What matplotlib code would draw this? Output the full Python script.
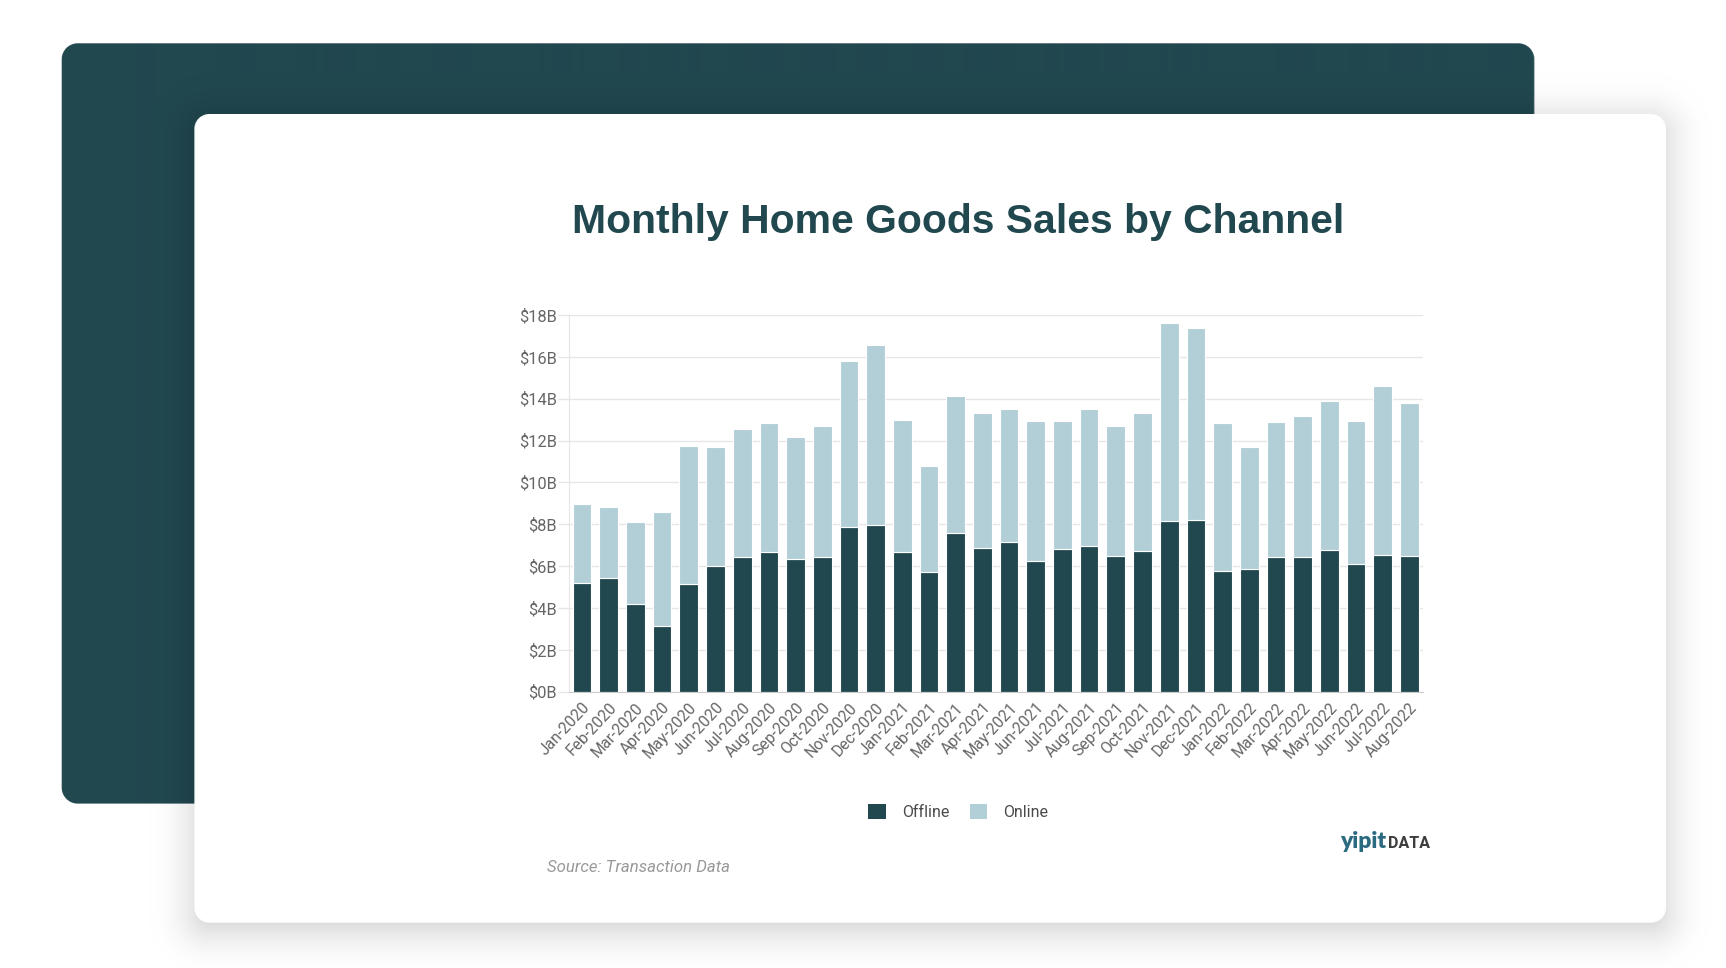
import numpy as np
import matplotlib
matplotlib.use("Agg")
import matplotlib.pyplot as plt
from matplotlib.patches import Patch

# ---------------- data ----------------
months = ["Jan-2020", "Feb-2020", "Mar-2020", "Apr-2020", "May-2020", "Jun-2020",
          "Jul-2020", "Aug-2020", "Sep-2020", "Oct-2020", "Nov-2020", "Dec-2020",
          "Jan-2021", "Feb-2021", "Mar-2021", "Apr-2021", "May-2021", "Jun-2021",
          "Jul-2021", "Aug-2021", "Sep-2021", "Oct-2021", "Nov-2021", "Dec-2021",
          "Jan-2022", "Feb-2022", "Mar-2022", "Apr-2022", "May-2022", "Jun-2022",
          "Jul-2022", "Aug-2022"]
offline = [5.21, 5.43, 4.21, 3.15, 5.15, 6.01, 6.44, 6.69, 6.34, 6.42, 7.87, 7.96,
           6.66, 5.73, 7.57, 6.85, 7.17, 6.23, 6.80, 6.94, 6.48, 6.71, 8.17, 8.20,
           5.77, 5.88, 6.44, 6.44, 6.77, 6.10, 6.51, 6.48]
totals = [8.98, 8.84, 8.12, 8.57, 11.74, 11.68, 12.57, 12.85, 12.15, 12.68, 15.82, 16.57,
          13.00, 10.78, 14.14, 13.32, 13.51, 12.93, 12.92, 13.52, 12.70, 13.33, 17.60, 17.38,
          12.84, 11.71, 12.87, 13.16, 13.91, 12.95, 14.59, 13.79]
online = [round(t - o, 2) for t, o in zip(totals, offline)]
y_ticks = [0, 2, 4, 6, 8, 10, 12, 14, 16, 18]
y_tick_labels = ["$0B", "$2B", "$4B", "$6B", "$8B", "$10B", "$12B", "$14B", "$16B", "$18B"]
series_names = ["Offline", "Online"]

DARK = "#21474F"
LIGHT = "#B2CFD7"

W, H = 1726, 968
fig = plt.figure(figsize=(W / 100, H / 100), dpi=100)

# ---------------- background (panel, shadow, card) ----------------
def rrect_sdf(X, Y, x0, y0, x1, y1, r):
    cx, cy = (x0 + x1) / 2, (y0 + y1) / 2
    bx, by = (x1 - x0) / 2, (y1 - y0) / 2
    qx = np.abs(X - cx) - bx + r
    qy = np.abs(Y - cy) - by + r
    outside = np.hypot(np.maximum(qx, 0), np.maximum(qy, 0))
    inside = np.minimum(np.maximum(qx, qy), 0)
    return outside + inside - r

Y, X = np.mgrid[0:H, 0:W] + 0.5
img = np.ones((H, W, 3))
dark_rgb = np.array([0x21, 0x47, 0x4F]) / 255.0
d_panel = rrect_sdf(X, Y, 61.7, 43.3, 1533.4, 803.6, 16)
cov = np.clip(0.5 - d_panel, 0, 1)[..., None]
img = img * (1 - cov) + dark_rgb * cov
# soft shadow of card
d_sh = rrect_sdf(X, Y, 194.3, 120, 1665, 930, 16)
sh = 0.16 * np.clip(1 - (d_sh + 12) / 58, 0, 1) ** 2
img = img * (1 - sh[..., None])
d_card = rrect_sdf(X, Y, 194.3, 114, 1665, 922.7, 15)
cov = np.clip(0.5 - d_card, 0, 1)[..., None]
img = img * (1 - cov) + 1.0 * cov

ax_bg = fig.add_axes([0, 0, 1, 1])
ax_bg.imshow(img, extent=[0, W, H, 0], aspect="auto", interpolation="bilinear")
ax_bg.set_xlim(0, W)
ax_bg.set_ylim(H, 0)
ax_bg.axis("off")

# ---------------- chart ----------------
left, right, top, bottom = 568.7, 1422.7, 315.0, 691.7
ax = fig.add_axes([left / W, 1 - bottom / H, (right - left) / W, (bottom - top) / H])
ax.patch.set_alpha(0)

x = np.arange(len(months))
ax.bar(x, offline, width=0.70, color=DARK, edgecolor="white", linewidth=0.8, zorder=3)
ax.bar(x, online, bottom=offline, width=0.70, color=LIGHT, edgecolor="white",
       linewidth=0.8, zorder=3)

ax.set_xlim(-0.5, len(months) - 0.5)
ax.set_ylim(0, 18)
ax.set_yticks(y_ticks)
ax.set_yticklabels(y_tick_labels, fontfamily="Roboto", fontsize=11.8, color="#666666")
ax.tick_params(axis="y", length=8, width=1, color="#e6e6e6", pad=0.5)
ax.grid(axis="y", color="#e6e6e6", linewidth=1, zorder=0)
ax.set_xticks(x)
ax.set_xticklabels(months, rotation=47, ha="right", va="top", rotation_mode="anchor",
                   fontfamily="Roboto", fontsize=11.3, color="#666666")
ax.tick_params(axis="x", length=0, pad=6)
for s in ["top", "right"]:
    ax.spines[s].set_visible(False)
ax.spines["left"].set_color("#e6e6e6")
ax.spines["bottom"].set_color("#cccccc")
ax.spines["bottom"].set_zorder(4)

# legend
handles = [Patch(facecolor=DARK, edgecolor="none"), Patch(facecolor=LIGHT, edgecolor="none")]
leg = fig.legend(handles, series_names, loc="center",
                 bbox_to_anchor=(958.3 / W, 1 - 812 / H), ncol=2, frameon=False,
                 handlelength=1.1, handleheight=1.1, handletextpad=1.0,
                 columnspacing=1.3, prop={"family": "Roboto", "size": 11.5})
for t in leg.get_texts():
    t.set_color("#4a4a4a")

# title
fig.text(958.5 / W, 1 - 222 / H, "Monthly Home Goods Sales by Channel",
         ha="center", va="center", fontfamily="Liberation Sans", fontweight="bold",
         fontsize=29.4, color=DARK)

# source
fig.text(547 / W, 1 - 868 / H, "Source: Transaction Data", ha="left", va="center",
         fontfamily="Roboto", fontstyle="italic", fontsize=12.1, color="#999999")

# logo
fig.text(1339.7 / W, 1 - 848 / H, "yipit", ha="left", va="baseline",
         fontfamily="Lato", fontweight="heavy", fontsize=16.5, color="#2B6A80")
fig.text(1387.5 / W, 1 - 848 / H, "DATA", ha="left", va="baseline",
         fontfamily="Roboto", fontweight="bold", fontsize=11.5, color="#3d3d3d")

fig.savefig("out.png", dpi=100)
